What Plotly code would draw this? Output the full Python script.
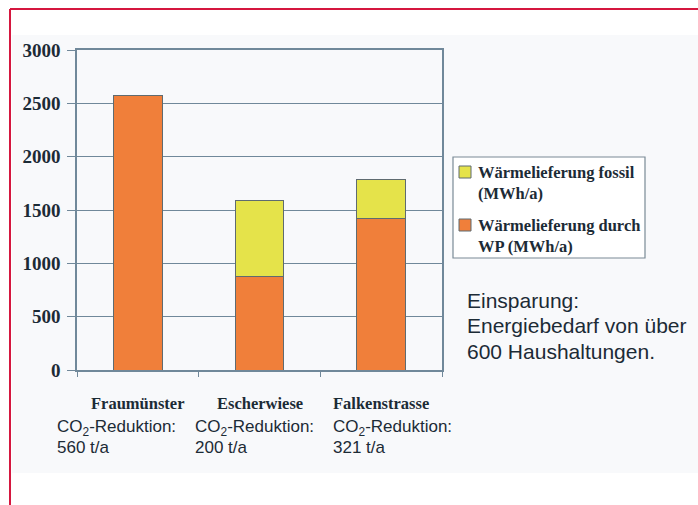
import plotly.graph_objects as go

categories = ["Fraumünster", "Escherwiese", "Falkenstrasse"]
wp_values = [2570, 880, 1425]
fossil_values = [0, 710, 365]
co2_reduction = [560, 200, 321]
y_ticks = [0, 500, 1000, 1500, 2000, 2500, 3000]
legend_fossil = ["Wärmelieferung fossil", "(MWh/a)"]
legend_wp = ["Wärmelieferung durch", "WP (MWh/a)"]
note_lines = ["Einsparung:", "Energiebedarf von über", "600 Haushaltungen."]

W, H = 698, 505
L, R, T, B = 77, 256, 50, 135
pw, ph = W - L - R, H - T - B

def px(x):
    return (x - L) / pw

def py(y):
    return (H - B - y) / ph

serif = "Liberation Serif"
sans = "Liberation Sans"
txt = "#1c2b36"
grid = "#70889a"
c_wp = "#f07f3a"
c_fossil = "#e5e34a"
edge = "#5f6b70"

fig = go.Figure()
fig.add_trace(go.Bar(
    x=categories, y=wp_values, name=" ".join(legend_wp), width=0.4,
    marker=dict(color=c_wp, line=dict(color=edge, width=1)),
))
fig.add_trace(go.Bar(
    x=categories, y=fossil_values, name=" ".join(legend_fossil), width=0.4,
    marker=dict(color=c_fossil, line=dict(color=edge, width=1)),
))

annotations = []
for c in categories:
    annotations.append(dict(
        x=c, xref="x", y=py(403), yref="paper", text="<b>%s</b>" % c,
        showarrow=False, xanchor="center", yanchor="middle",
        font=dict(family=serif, size=16.5, color=txt),
    ))
co2_x = [55, 193, 331]
for xpos, v in zip(co2_x, co2_reduction):
    annotations.append(dict(
        x=px(xpos), xref="paper", y=py(428), yref="paper",
        text="CO<sub>2</sub>-Reduktion:", showarrow=False,
        xanchor="left", yanchor="middle",
        font=dict(family=sans, size=17, color=txt),
    ))
    annotations.append(dict(
        x=px(xpos), xref="paper", y=py(447), yref="paper",
        text="%d t/a" % v, showarrow=False,
        xanchor="left", yanchor="middle",
        font=dict(family=sans, size=17, color=txt),
    ))
for i, line in enumerate(note_lines):
    annotations.append(dict(
        x=px(465), xref="paper", y=py(300 + 25.5 * i), yref="paper",
        text=line, showarrow=False, xanchor="left", yanchor="middle",
        font=dict(family=sans, size=21, color=txt),
    ))

# legend (box, swatches, labels)
legend_items = [(legend_fossil, c_fossil, 172), (legend_wp, c_wp, 225)]
shapes = [
    dict(type="rect", xref="paper", yref="paper", x0=px(12), x1=px(W), y0=py(473), y1=py(35),
         fillcolor="#f8f9fb", line=dict(width=0), layer="below"),
    dict(type="line", xref="paper", yref="paper", x0=px(10), x1=px(W), y0=py(9), y1=py(9),
         line=dict(color="#d5173f", width=2)),
    dict(type="line", xref="paper", yref="paper", x0=px(10), x1=px(10), y0=py(9), y1=py(H),
         line=dict(color="#d5173f", width=2)),
    dict(type="rect", xref="paper", yref="paper", x0=px(453), x1=px(645), y0=py(258), y1=py(157),
         fillcolor="white", line=dict(color="#7a8a96", width=1.2)),
]
for lines, col, ytop in legend_items:
    shapes.append(dict(type="rect", xref="paper", yref="paper",
                       x0=px(459), x1=px(471), y0=py(ytop + 6), y1=py(ytop - 6),
                       fillcolor=col, line=dict(color=edge, width=1)))
    for j, ln in enumerate(lines):
        annotations.append(dict(
            x=px(476), xref="paper", y=py(ytop + 21 * j), yref="paper",
            text="<b>%s</b>" % ln, showarrow=False, xanchor="left", yanchor="middle",
            font=dict(family=serif, size=16.5, color=txt),
        ))

fig.update_layout(
    width=W, height=H,
    margin=dict(l=L, r=R, t=T, b=B, pad=0),
    barmode="stack",
    paper_bgcolor="white",
    plot_bgcolor="white",
    showlegend=False,
    xaxis=dict(
        showticklabels=False, ticks="outside", tickson="boundaries", ticklen=5,
        tickcolor=grid, showline=True, linecolor=grid, linewidth=1.5, mirror=True,
        showgrid=False,
    ),
    yaxis=dict(
        range=[0, 3000], tickvals=y_ticks, ticktext=["<b>%d</b>" % v for v in y_ticks],
        ticks="outside", ticklen=8, tickcolor=grid,
        showline=True, linecolor=grid, linewidth=1.5, mirror=True,
        showgrid=True, gridcolor=grid, gridwidth=1, zeroline=False,
        tickfont=dict(family=serif, size=19, color=txt),
        ticklabelstandoff=3,
    ),
    annotations=annotations,
    shapes=shapes,
    bargap=0.6,
)

fig.write_html("out.html", config={"displayModeBar": False},
               post_script="document.body.style.margin='0';document.body.style.padding='0';")
